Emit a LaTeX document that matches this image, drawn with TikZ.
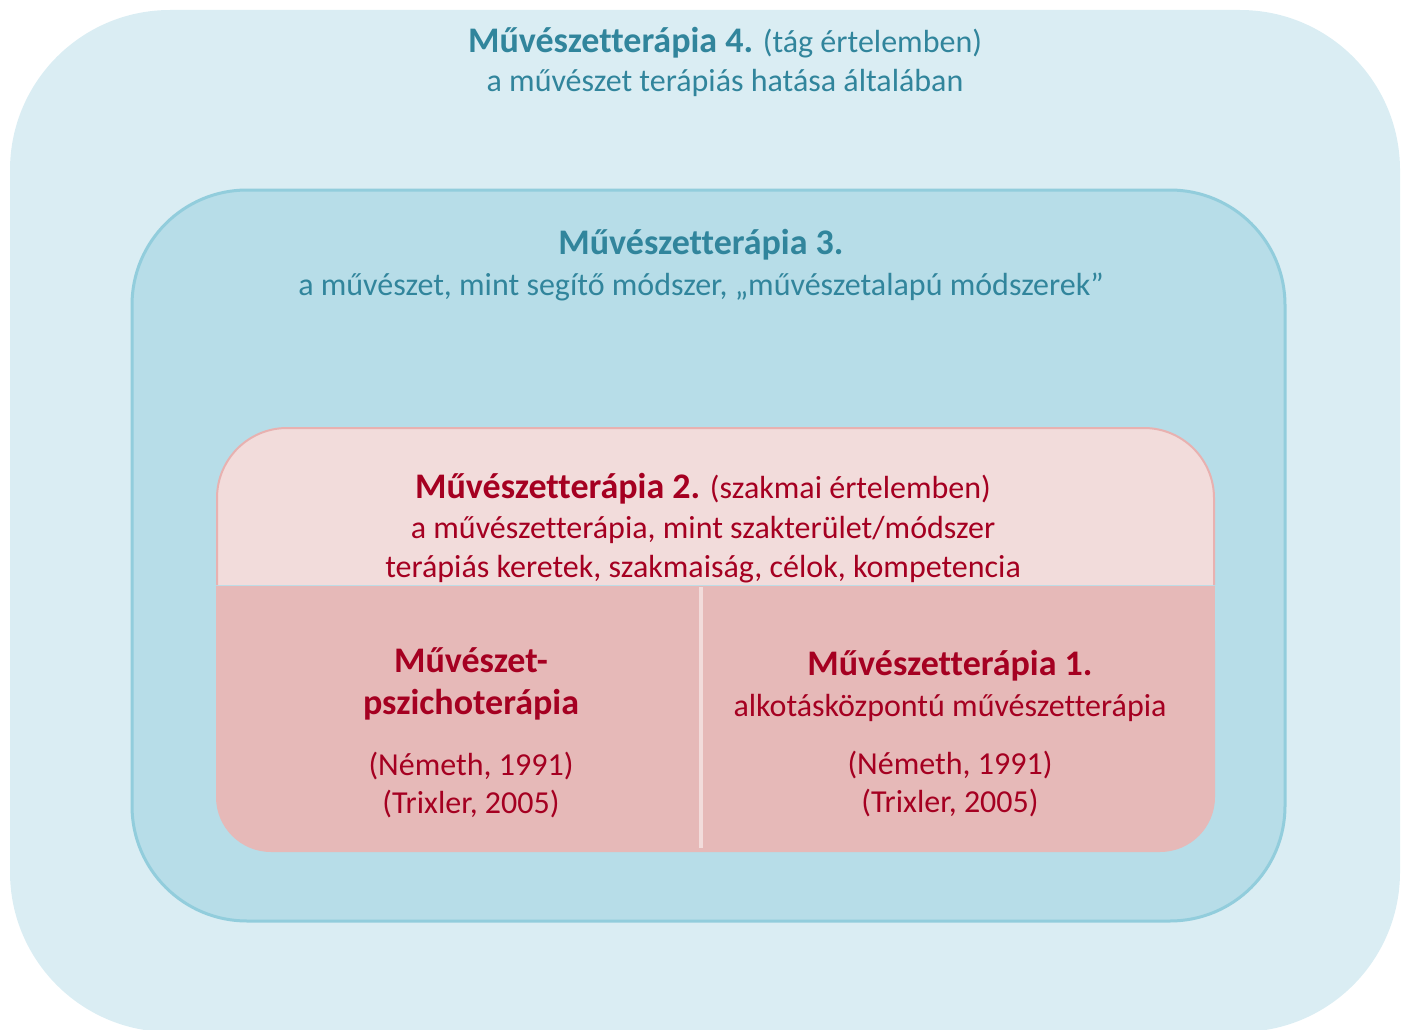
\documentclass[tikz,border=0pt]{standalone}
\usepackage{fontspec}
\setmainfont{Carlito}[Ligatures=CommonOff]
\usetikzlibrary{positioning}

\definecolor{outerblue}{HTML}{DAEDF3}
\definecolor{midblue}{HTML}{B7DDE8}
\definecolor{midline}{HTML}{92CDDC}
\definecolor{palerose}{HTML}{F2DCDB}
\definecolor{rose}{HTML}{E6B9B8}
\definecolor{roseline}{HTML}{E8B1B0}
\definecolor{tealtext}{HTML}{31859C}
\definecolor{wine}{HTML}{A50021}

\newcommand{\hd}[1]{{\fontsize{36}{40}\selectfont\bfseries #1}}

\tikzset{
  bluetext/.style={anchor=base, inner sep=0pt, text=tealtext, font=\fontsize{32}{36}\selectfont},
  redtext/.style={anchor=base, inner sep=0pt, text=wine, font=\fontsize{32}{36}\selectfont}
}

\begin{document}
\begin{tikzpicture}[x=1pt, y=-1pt]
    \useasboundingbox (0,0) rectangle (1402,1030);

    % nested fields
    \fill [outerblue, rounded corners=160pt] (10,10) rectangle (1400,1032);
    \filldraw [fill=midblue, draw=midline, line width=3pt, rounded corners=115pt]
      (132,190) rectangle (1285,921);
    \filldraw [fill=palerose, draw=roseline, line width=2pt, rounded corners=70pt]
      (217,585) -- (217,428) -- (1214,428) -- (1214,585);
    \fill [rose, rounded corners=55pt] (216,586) -- (216,852) -- (1215,852) -- (1215,586) [sharp corners] -- cycle;
    \fill [rose] (216,586) rectangle (1215,640);
    \draw [palerose, line width=4pt] (701,587) -- (701,848);

    \node (t4)  [bluetext] at (725,53) {\hd{Művészetterápia 4.} (tág értelemben)};
    \node (t4b) [bluetext] at (725,92) {a művészet terápiás hatása általában};

    \node (t3)  [bluetext] at (701,254) {\hd{Művészetterápia 3.}};
    \node (t3b) [bluetext] at (701,295) {a művészet, mint segítő módszer, „művészetalapú módszerek”};

    \node (t2)  [redtext] at (703,498) {\hd{Művészetterápia 2.} (szakmai értelemben)};
    \node (t2b) [redtext] at (703,538) {a művészetterápia, mint szakterület/módszer};
    \node (t2c) [redtext] at (703,577) {terápiás keretek, szakmaiság, célok, kompetencia};

    \node (psz)  [redtext] at (471,672) {\hd{Művészet-}};
    \node (pszb) [redtext] at (471,714) {\hd{pszichoterápia}};
    \node (psn)  [redtext] at (471,775) {(Németh, 1991)};
    \node (pst)  [redtext] at (471,813) {(Trixler, 2005)};

    \node (t1)  [redtext] at (950,675) {\hd{Művészetterápia 1.}};
    \node (t1b) [redtext] at (950,716) {alkotásközpontú művészetterápia};
    \node (t1n) [redtext] at (950,774) {(Németh, 1991)};
    \node (t1t) [redtext] at (950,812) {(Trixler, 2005)};
\end{tikzpicture}
\end{document}
